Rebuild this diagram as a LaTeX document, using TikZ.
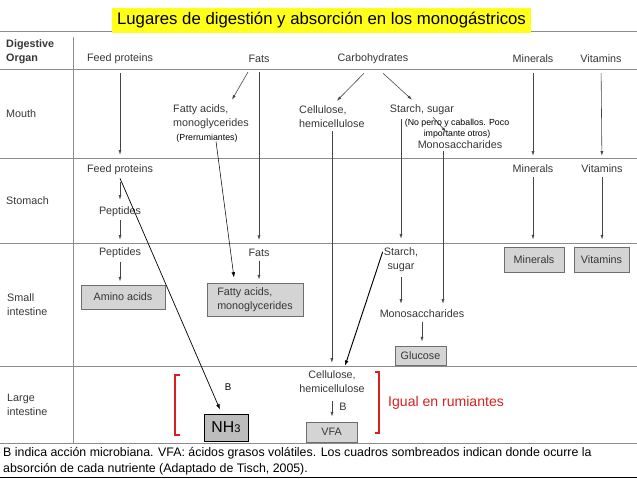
\documentclass[tikz,border=0pt]{standalone}
\usepackage{fontspec}
\setmainfont{Liberation Sans}
\usepackage{xcolor}
\usepackage{tikz}
\usetikzlibrary{positioning,arrows.meta}

\definecolor{txtgray}{HTML}{363636}
\definecolor{rulegray}{HTML}{8C8C8C}
\definecolor{arrgray}{HTML}{454545}
\definecolor{boxfill}{HTML}{D4D4D4}
\definecolor{boxline}{HTML}{6E6E6E}
\definecolor{nhfill}{HTML}{BDBDBD}
\definecolor{titleyellow}{HTML}{FFFF1A}
\definecolor{redtxt}{HTML}{D9201E}

\begin{document}
\begin{tikzpicture}[x=0.03cm, y=-0.03cm,
lbl/.style={inner sep=0pt, align=center, text=txtgray, font=\fontsize{9.2}{11.9}\selectfont},
note/.style={inner sep=0pt, align=center, text=black, font=\fontsize{7.5}{9.4}\selectfont},
box/.style={lbl, draw=boxline, fill=boxfill, line width=0.8pt},
rule/.style={draw=rulegray, line width=0.7pt},
arr/.style={-{Latex[length=1.4mm,width=0.9mm]}, draw=arrgray, line width=0.5pt},
barr/.style={-{Latex[length=1.6mm,width=1.1mm]}, draw=black, line width=0.6pt},
brk/.style={draw=redtxt, line width=0.9pt}
]
\useasboundingbox (0,0) rectangle (637,479);

\draw[rule] (0,31) -- (637,31);
\foreach \y in {69,158,243,366,443} \draw[rule] (0,\y) -- (637,\y);
\draw[rule] (73,37) -- (73,443);
\draw[line width=1pt] (0,477.5) -- (637,477.5);

\node[fill=titleyellow, minimum width=12.57cm, minimum height=0.75cm, inner sep=0pt,
  font=\fontsize{14.3}{17}\selectfont] (title) at (321.5,20.5) {Lugares de digestión y absorción en los monogástricos};

% row heads
\node[lbl, anchor=west, align=left, font=\bfseries\fontsize{9.2}{11.9}\selectfont] (organ) at (6,52) {Digestive\\Organ};
\node[lbl, anchor=west] (mouth) at (6,114) {Mouth};
\node[lbl, anchor=west] (stomach) at (6,201) {Stomach};
\node[lbl, anchor=west, align=left] (smallint) at (7,304.5) {Small\\intestine};
\node[lbl, anchor=west, align=left] (largeint) at (7,404.5) {Large\\intestine};

% column heads
\node[lbl] (fp0) at (120,59) {Feed proteins};
\node[lbl] (fat0) at (259,59) {Fats};
\node[lbl] (carb0) at (373,59) {Carbohydrates};
\node[lbl] (min0) at (533,59) {Minerals};
\node[lbl] (vit0) at (601,59) {Vitamins};

% mouth
\node[lbl, anchor=west, align=left] (fa1) at (173,117) {Fatty acids,\\monoglycerides};
\node[note] (pre) at (207,138) {(Prerrumiantes)};
\node[lbl, anchor=west, align=left] (cel1) at (299,117) {Cellulose,\\hemicellulose};
\node[lbl] (st1) at (422,110) {Starch, sugar};
\node[lbl] (mono1) at (460,145) {Monosaccharides};

% stomach
\node[lbl] (fp2) at (120,170) {Feed proteins};
\node[lbl] (pep2) at (120,212) {Peptides};
\node[lbl] (min2) at (533,169) {Minerals};
\node[lbl] (vit2) at (602,169) {Vitamins};

% small intestine
\node[lbl] (pep3) at (120,253) {Peptides};
\node[box, minimum width=2.52cm, minimum height=0.72cm] (amino) at (123,297) {Amino acids};
\node[lbl] (fat3) at (259,253) {Fats};
\node[box, align=left, minimum width=2.88cm, minimum height=0.99cm] (fa3) at (255,299.5) {Fatty acids,\\monoglycerides};
\node[lbl] (st3) at (401,260) {Starch,\\sugar};
\node[lbl] (mono3) at (422,314) {Monosaccharides};
\node[box, minimum width=1.53cm, minimum height=0.57cm] (glu) at (420.5,355.5) {Glucose};
\node[box, minimum width=1.8cm, minimum height=0.75cm] (minbox) at (534,259.5) {Minerals};
\node[box, minimum width=1.65cm, minimum height=0.75cm] (vitbox) at (601.5,259.5) {Vitamins};

% large intestine
\node[note, font=\fontsize{8.3}{10}\selectfont] (b1) at (228,387) {B};
\node[box, draw=black, fill=nhfill, text=black, minimum width=1.32cm, minimum height=0.81cm,
  font=\fontsize{13.5}{16}\selectfont] (nh3) at (226,427.5) {NH{\fontsize{9.5}{12}\selectfont 3}};
\node[lbl] (cel4) at (332,382) {Cellulose,\\hemicellulose};
\node[lbl] (b2) at (343,407) {B};
\node[box, minimum width=1.53cm, minimum height=0.6cm] (vfa) at (331.5,432) {VFA};
\node[inner sep=0pt, anchor=west, text=redtxt, font=\fontsize{12}{14}\selectfont] (igual) at (388,403) {Igual en rumiantes};
\draw[brk] (180,375) -- (175,375) -- (175,435) -- (180,435);
\draw[brk] (375,372) -- (379,372) -- (379,433) -- (375,433);

\node[inner sep=0pt, anchor=west, align=left, font=\fontsize{10.55}{13.6}\selectfont] (caption) at (3,461)
  {B indica acción microbiana. VFA: ácidos grasos volátiles. Los cuadros sombreados indican donde ocurre la\\absorción de cada nutriente (Adaptado de Tisch, 2005).};

% arrows
\draw[arr, shorten <=2.7mm, shorten >=3mm] (fp0) -- (fp2);
\draw[arr] ([shift={(-11,9)}]fat0.south) -- ([shift={(21,-5)}]fa1.north);
\draw[arr, shorten <=2.7mm, shorten >=2.7mm] (fat0) -- (fat3);
\draw[arr] ([shift={(-9,9)}]carb0.south) -- ([shift={(5,-5)}]cel1.north);
\draw[arr] ([shift={(10,9)}]carb0.south) -- ([shift={(-10,-5)}]st1.north);
\draw[arr] ([shift={(11,2)}]st1.south) -- ([shift={(-14,-9)}]mono1.north);
\draw[arr, shorten <=0.9mm, shorten >=2.4mm] (cel1) -- (cel1 |- cel4.north);
\draw[arr, shorten <=1.2mm, shorten >=2.7mm] (st1.south -| st3) -- (st3);
\draw[arr, shorten <=0.6mm, shorten >=1.8mm] ([shift={(-17,0)}]mono1.south) -- ([shift={(-17,0)}]mono1.south |- mono3.north);
\draw[arr, shorten <=3mm, shorten >=2.7mm] (min0) -- (min2);
\draw[arr, shorten <=3mm, shorten >=2.7mm] (vit0) -- (vit2);
\draw[arr, shorten <=2.1mm, shorten >=2.1mm] (fp2) -- (pep2);
\draw[arr, shorten <=0.9mm, shorten >=2.4mm] (pep2) -- (pep3);
\draw[arr, shorten <=1.2mm, shorten >=2.1mm] (min2) -- (min2 |- minbox.north);
\draw[arr, shorten <=1.2mm, shorten >=2.1mm] (vit2) -- (vit2 |- vitbox.north);
\draw[arr, shorten <=1.2mm, shorten >=0.9mm] (pep3) -- (pep3 |- amino.north);
\draw[arr, shorten <=1.2mm, shorten >=0.9mm] (fat3) -- (fat3 |- fa3.north);
\draw[arr, shorten <=1.5mm, shorten >=1.8mm] (st3) -- (st3 |- mono3.north);
\draw[arr, shorten <=1.2mm, shorten >=1.2mm] (mono3) -- (mono3 |- glu.north);
\draw[arr, shorten <=2.4mm, shorten >=1.5mm] (cel4) -- (cel4 |- vfa.north);
\draw[barr, line width=0.45pt] ([shift={(9,-1)}]pre.south) -- ([shift={(-21,-5)}]fa3.north);
\draw[barr] ([shift={(0,3)}]fp2.south) -- ([shift={(-6,-4)}]nh3.north);
\draw[barr, line width=0.8pt] ([shift={(-1,4)}]st3.north west) -- ([shift={(13,-5)}]cel4.north);

\node[note] (perro) at (457,128.5) {(No perro y caballos. Poco\\importante otros)};
\end{tikzpicture}
\end{document}
